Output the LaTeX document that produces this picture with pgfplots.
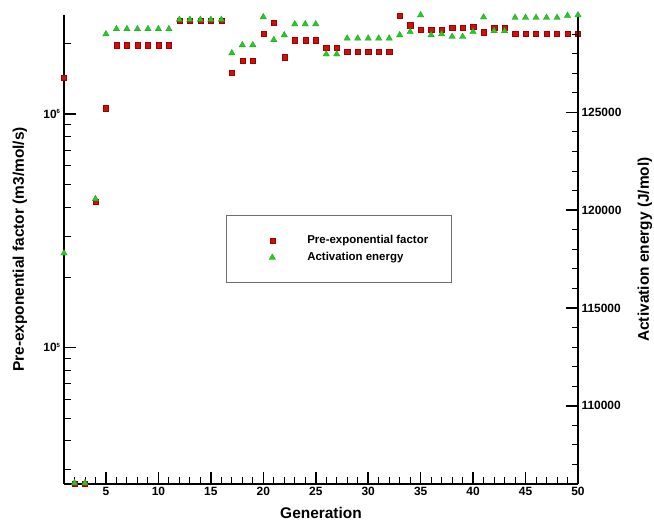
\documentclass[border=0pt]{standalone}
\usepackage{fontspec}
\setmainfont{Liberation Sans}
\usepackage{pgfplots}
\pgfplotsset{compat=1.18}
\definecolor{redF}{RGB}{204,16,16}
\definecolor{redD}{RGB}{160,0,0}
\definecolor{grnF}{RGB}{40,200,40}
\definecolor{grnD}{RGB}{25,160,25}
\definecolor{legGray}{RGB}{110,110,110}
\pgfplotsset{mylegimg/.style={legend image code/.code={\path[draw=none,fill=none] (-25bp,0bp) -- (33bp,0bp); \draw[##1] plot coordinates {(0bp,0bp)};}}}
\pgfplotstableread{
g v
1 1.43e6
2 2.62e4
3 2.62e4
4 4.22e5
5 1.06e6
6 1.97e6
7 1.97e6
8 1.97e6
9 1.97e6
10 1.97e6
11 1.97e6
12 2.51e6
13 2.51e6
14 2.51e6
15 2.51e6
16 2.51e6
17 1.50e6
18 1.69e6
19 1.69e6
20 2.20e6
21 2.45e6
22 1.75e6
23 2.07e6
24 2.07e6
25 2.07e6
26 1.92e6
27 1.92e6
28 1.85e6
29 1.85e6
30 1.85e6
31 1.85e6
32 1.85e6
33 2.63e6
34 2.40e6
35 2.29e6
36 2.29e6
37 2.29e6
38 2.34e6
39 2.34e6
40 2.36e6
41 2.24e6
42 2.34e6
43 2.34e6
44 2.21e6
45 2.21e6
46 2.21e6
47 2.21e6
48 2.21e6
49 2.21e6
50 2.21e6
}\preexp
\pgfplotstableread{
g e
1 117800
2 106050
3 106050
4 120570
5 129000
6 129260
7 129260
8 129260
9 129260
10 129260
11 129260
12 129740
13 129740
14 129740
15 129740
16 129740
17 128030
18 128440
19 128440
20 129870
21 128700
22 128950
23 129510
24 129510
25 129510
26 127970
27 127970
28 128780
29 128780
30 128780
31 128780
32 128780
33 128950
34 129120
35 129970
36 128950
37 129000
38 128870
39 128870
40 129120
41 129860
42 129160
43 129160
44 129840
45 129840
46 129840
47 129840
48 129840
49 129940
50 129970
}\actene
\begin{document}
\begin{tikzpicture}
\path[use as bounding box] (0,0) rectangle (654bp,521bp);
\begin{axis}[
 at={(64bp,37bp)}, anchor=south west, scale only axis, width=514bp, height=469bp,
 xmin=1, xmax=50, ymode=log, ymin=2.61e4, ymax=2.652e6,
 axis x line*=bottom, axis y line*=left,
 axis line style={line width=1.8bp,-},
 tick align=inside, major tick length=12bp, minor tick length=6.5bp,
 every major tick/.style={line width=1.6bp, black},
 every minor tick/.style={line width=0.9bp, black},
 xtick={5,10,...,50}, xticklabels={5,10,15,20,25,30,35,40,45,50},
 minor xtick={1,...,50},
 ytick={1e5,1e6},
 yticklabels={10\textsuperscript{\fontsize{6}{6}\selectfont 5},10\textsuperscript{\fontsize{6}{6}\selectfont 6}},
 minor ytick={3e4,4e4,5e4,6e4,7e4,8e4,9e4,2e5,3e5,4e5,5e5,6e5,7e5,8e5,9e5,2e6},
 ticklabel style={font=\fontsize{12}{14}\selectfont\bfseries},
 xlabel={Generation}, ylabel={Pre-exponential factor (m3/mol/s)},
 xlabel style={at={(axis description cs:0.5,-0.0618)}, anchor=center, font=\fontsize{15.5}{18}\selectfont\bfseries},
 ylabel style={at={(axis description cs:-0.0856,0.5)}, anchor=center, font=\fontsize{15.5}{18}\selectfont\bfseries},
]
\addplot[only marks, mark=square*, mark size=2.6bp, mark options={fill=redF, draw=redD, line width=0.3bp}] table[x=g,y=v] {\preexp};
\end{axis}
\begin{axis}[
 at={(64bp,37bp)}, anchor=south west, scale only axis, width=514bp, height=469bp,
 xmin=1, xmax=50, ymin=106000, ymax=129975,
 axis x line=none, axis y line*=right,
 axis line style={line width=1.8bp,-},
 tick align=inside, major tick length=12bp, minor tick length=6.5bp,
 every major tick/.style={line width=1.6bp, black},
 every minor tick/.style={line width=0.9bp, black},
 scaled y ticks=false,
 ytick={110000,115000,120000,125000},
 yticklabels={110000,115000,120000,125000},
 minor ytick={107000,108000,...,129000},
 ticklabel style={font=\fontsize{12}{14}\selectfont\bfseries},
 ylabel={Activation energy (J/mol)},
 ylabel style={at={(axis description cs:1.1304,0.5)}, anchor=center, font=\fontsize{15.5}{18}\selectfont\bfseries},
 legend cell align=left,
 legend style={at={(0.315,0.5736)}, anchor=north west, draw=legGray, line width=0.8bp,
   inner xsep=21bp, inner ysep=18bp, row sep=3.5bp,
   font=\fontsize{11.5}{13}\selectfont\bfseries, cells={anchor=west}},
]
\addlegendimage{only marks, mark=square*, mark size=2.4bp, mark options={fill=redF, draw=redD, line width=0.3bp}, mylegimg}
\addlegendentry{Pre-exponential factor}
\addplot[only marks, mark=triangle*, mark size=3.7bp, mark options={fill=grnF, draw=grnD, line width=0.3bp}, mylegimg] table[x=g,y=e] {\actene};
\addlegendentry{Activation energy}
\end{axis}
\end{tikzpicture}
\end{document}
